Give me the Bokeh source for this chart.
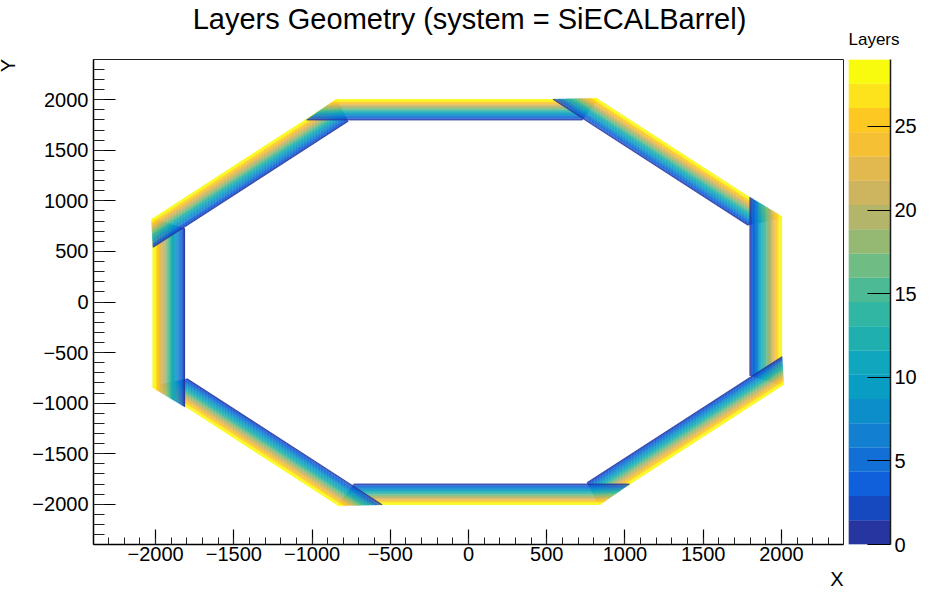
import math
from bokeh.plotting import figure
from bokeh.layouts import row
from bokeh.models import Range1d, SingleIntervalTicker, Label
from bokeh.embed import file_html
from bokeh.resources import INLINE

TITLE = "Layers Geometry (system = SiECALBarrel)"
FONT = "Liberation Sans"

# stave angles in degrees, one per side of the octagon, and small x offsets
stave_angles = [0, 45, 90, 135, 180, 225, 270, 315]
stave_shift_x = [0, -12, -16, -12, -6, 0, 0, 0]

# layer index, radius, and the two ends of each layer along its stave
layers = list(range(30))
layer_radius = [1800, 1807, 1814, 1821, 1828, 1834, 1841, 1848, 1855, 1862,
                1869, 1876, 1883, 1890, 1897, 1903, 1910, 1917, 1924, 1931,
                1938, 1945, 1952, 1959, 1966, 1972, 1979, 1986, 1993, 2000]
layer_left = [-1035, -1029, -1022, -1016, -1009, -1004, -997, -991, -984, -978,
              -971, -965, -958, -952, -945, -940, -933, -927, -920, -914,
              -907, -901, -894, -888, -881, -876, -869, -863, -856, -850]
layer_right = [728, 731, 735, 738, 741, 744, 748, 751, 754, 758,
               761, 764, 768, 771, 775, 777, 781, 784, 788, 791,
               794, 798, 801, 804, 808, 811, 814, 817, 821, 824]
layer_half_width = 3.45

# colour palette, bottom band to top band
palette = ["#2635a0", "#1649c0", "#0f60da", "#126fd5", "#137fd0",
           "#0c8ecb", "#0a9dc4", "#10a6bd", "#1eafae", "#30b6a2",
           "#4dba96", "#6fbc85", "#95b872", "#b3b56a", "#cdb560",
           "#e1b94f", "#f5c033", "#fec823", "#fde31c", "#f9fb0e"]
z_max = 29
cbar_ticks_step = 5

xs, ys, colors = [], [], []
for k in reversed(layers):
    band = min(len(palette) - 1, int((k + 1) / z_max * len(palette)))
    r0 = layer_radius[k] - layer_half_width
    r1 = layer_radius[k] + layer_half_width
    t0, t1 = layer_left[k], layer_right[k]
    for deg, dx in zip(stave_angles, stave_shift_x):
        c, s = math.cos(math.radians(deg)), math.sin(math.radians(deg))
        corners = [(t0, r0), (t1, r0), (t1, r1), (t0, r1)]
        xs.append([t * c - r * s + dx for t, r in corners])
        ys.append([t * s + r * c for t, r in corners])
        colors.append(palette[band])

p = figure(width=848, height=600, output_backend="svg", toolbar_location=None,
           x_range=Range1d(-2397, 2397), y_range=Range1d(-2397, 2397),
           min_border_left=93, min_border_right=5, min_border_top=59, min_border_bottom=56)
p.xgrid.visible = False
p.ygrid.visible = False
p.outline_line_color = "#222222"
p.outline_line_width = 1

p.patches(xs, ys, fill_color=colors, line_color=colors, line_width=0.2)

p.xaxis.ticker = SingleIntervalTicker(interval=500, num_minor_ticks=5)
p.yaxis.ticker = SingleIntervalTicker(interval=500, num_minor_ticks=5)
for ax, maj, mnr in ((p.xaxis[0], 15, 7), (p.yaxis[0], 22, 11)):
    ax.major_tick_in = maj
    ax.major_tick_out = 0
    ax.minor_tick_in = mnr
    ax.minor_tick_out = 0
    ax.axis_line_color = "black"
    ax.axis_line_width = 1.5
    ax.major_tick_line_color = "black"
    ax.major_tick_line_width = 1.2
    ax.minor_tick_line_color = "#222222"
    ax.major_label_text_font = FONT
    ax.major_label_text_font_size = "20px"
    ax.major_label_text_color = "black"
p.xaxis[0].major_label_standoff = 2
p.yaxis[0].major_label_standoff = 5

p.add_layout(Label(x=469, y=18, x_units="canvas", y_units="canvas", text=TITLE,
                   text_font=FONT, text_font_size="29px", text_align="center", text_baseline="middle",
                   text_color="black"), "above")
p.add_layout(Label(x=843, y=578, x_units="canvas", y_units="canvas", text="X",
                   text_font=FONT, text_font_size="20px", text_align="right", text_baseline="middle",
                   text_color="black"), "below")
p.add_layout(Label(x=7, y=65, x_units="canvas", y_units="canvas", text="Y", angle=math.pi / 2,
                   text_font=FONT, text_font_size="20px", text_align="center", text_baseline="middle",
                   text_color="black"), "left")

cb = figure(width=88, height=600, output_backend="svg", toolbar_location=None,
            x_range=Range1d(0, 1), y_range=Range1d(0, z_max),
            y_axis_location="right", x_axis_location=None,
            min_border_left=0, min_border_right=46, min_border_top=59, min_border_bottom=56,
            title="Layers")
cb.title.text_font = FONT
cb.title.text_font_size = "17px"
cb.title.text_font_style = "normal"
cb.title.text_color = "black"
cb.title.align = "left"
cb.title.standoff = 22
cb.xgrid.visible = False
cb.ygrid.visible = False
cb.outline_line_color = None
n = len(palette)
cb.quad(left=[0] * n, right=[1] * n,
        bottom=[i * z_max / n for i in range(n)],
        top=[(i + 1) * z_max / n for i in range(n)],
        fill_color=palette, line_color=palette, line_width=0.2)
ax = cb.yaxis[0]
ax.ticker = SingleIntervalTicker(interval=cbar_ticks_step, num_minor_ticks=0)
ax.major_tick_in = 23
ax.major_tick_out = 0
ax.minor_tick_in = 0
ax.minor_tick_out = 0
ax.axis_line_color = "#1a1a1a"
ax.axis_line_width = 1.5
ax.major_tick_line_color = "black"
ax.major_tick_line_width = 1.2
ax.major_label_text_font = FONT
ax.major_label_text_font_size = "20px"
ax.major_label_text_color = "black"
ax.major_label_standoff = 4

open("out.html", "w").write(file_html(row(p, cb, spacing=0), INLINE))
